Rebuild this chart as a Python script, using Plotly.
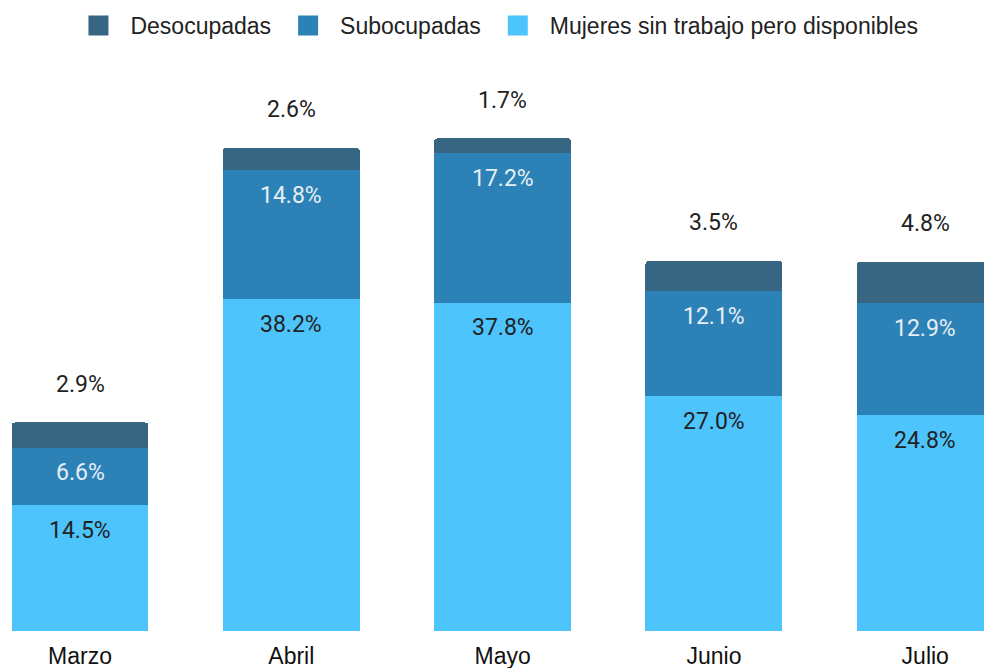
import plotly.graph_objects as go

months = ["Marzo", "Abril", "Mayo", "Junio", "Julio"]
disponibles = [14.5, 38.2, 37.8, 27.0, 24.8]
subocupadas = [6.6, 14.8, 17.2, 12.1, 12.9]
desocupadas = [2.9, 2.6, 1.7, 3.5, 4.8]
series_names = ["Mujeres sin trabajo pero disponibles", "Subocupadas", "Desocupadas"]

c_dis = "#4DC4FC"
c_sub = "#2C82B6"
c_des = "#376683"
colors = [c_dis, c_sub, c_des]

fig = go.Figure()
for vals, name, col in zip([disponibles, subocupadas, desocupadas], series_names, colors):
    fig.add_bar(x=months, y=vals, name=name, legendgroup=name, showlegend=False,
                marker=dict(color=col, line=dict(width=0)), hoverinfo="skip")
# legend entries (larger square swatches)
for name, col in zip(series_names, colors):
    fig.add_scatter(x=[None], y=[None], mode="markers", name=name, legendgroup=name,
                    marker=dict(symbol="square", size=16, color=col,
                                line=dict(color=col, width=4)),
                    hoverinfo="skip")

lab_font = "Roboto, Arial, sans-serif"
txt_font = "Liberation Sans, Arial, sans-serif"
for i, m in enumerate(months):
    b = disponibles[i]
    s = b + subocupadas[i]
    t = s + desocupadas[i]
    fig.add_annotation(x=m, y=b, text=f"{disponibles[i]:.1f}%", showarrow=False,
                       yanchor="middle", yshift=-25,
                       font=dict(family=lab_font, size=23, color="#222222"))
    fig.add_annotation(x=m, y=s, text=f"{subocupadas[i]:.1f}%", showarrow=False,
                       yanchor="middle", yshift=-25,
                       font=dict(family=lab_font, size=23, color="#E6EEF4"))
    fig.add_annotation(x=m, y=t, text=f"{desocupadas[i]:.1f}%", showarrow=False,
                       yanchor="middle", yshift=38,
                       font=dict(family=lab_font, size=23, color="#222222"))

fig.update_layout(
    width=984, height=668,
    barmode="stack",
    bargap=0.352,
    barcornerradius=4,
    plot_bgcolor="white", paper_bgcolor="white",
    margin=dict(l=0, r=0, t=60, b=37),
    font=dict(family=txt_font, size=23, color="#222222"),
    legend=dict(orientation="h", x=0.503, xanchor="center",
                y=(668 - 4) / 668, yref="container", yanchor="top",
                traceorder="reversed", font=dict(family=txt_font, size=23, color="#222222"),
                itemwidth=54, itemsizing="trace"),
    showlegend=True,
)

fig.update_xaxes(range=[-0.3786, 4.278], showgrid=False, showline=False, zeroline=False,
                 ticks="", ticklabelstandoff=9,
                 tickfont=dict(family=txt_font, size=23, color="#111111"))
fig.update_yaxes(range=[0, (631 - 60) / 8.69], showgrid=False, showticklabels=False,
                 zeroline=False, showline=False)

fig.write_html("out.html", config={"displayModeBar": False},
               post_script="document.body.style.margin='0';document.body.style.overflow='hidden';")
